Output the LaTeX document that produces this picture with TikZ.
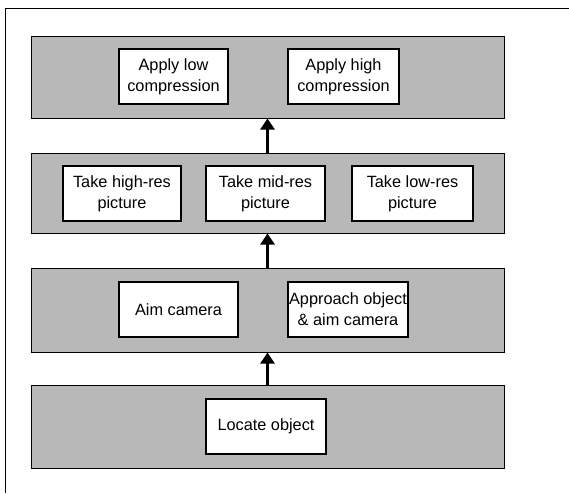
\documentclass[tikz,border=0pt]{standalone}
\usepackage{fontspec}
\setmainfont{Liberation Sans}
\usepackage{tikz}
\usetikzlibrary{arrows.meta,positioning}

\begin{document}
\begin{tikzpicture}[
  x=1pt,
  y=-1pt,
  layer/.style={draw, line width=1pt, fill=black!28, minimum width=473pt, inner sep=0pt},
  task/.style={draw, line width=1.1pt, fill=white, align=center, inner sep=1pt,
    minimum height=55pt, font=\fontsize{16.3}{21}\selectfont},
  up/.style={line width=2.6pt, -{Triangle[length=11pt,width=14pt]}}
]
\useasboundingbox (0,0) rectangle (569,493);
\draw[line width=0.8pt] (5,493) -- (5,8) -- (569,8);

% layers, bottom to top
\node[layer, minimum height=83pt] (locate) at (267.5,426.5) {};
\node[layer, minimum height=84pt] (aim) at (267.5,310) {};
\node[layer, minimum height=80pt] (shoot) at (267.5,193) {};
\node[layer, minimum height=82pt] (compress) at (267.5,77) {};

\node[task, minimum width=120pt] (loc) at (266,426.5) {Locate object};

\node[task, minimum width=119pt] (aimcam) at (178.5,309.5) {Aim camera};
\node[task, minimum width=120pt] (approach) at (348,309.5) {Approach object\\\& aim camera};

\node[task, minimum width=118pt] (hires) at (122,193.5) {Take high-res\\picture};
\node[task, minimum width=119pt] (midres) at (265.5,193.5) {Take mid-res\\picture};
\node[task, minimum width=121pt] (lowres) at (412.5,193.5) {Take low-res\\picture};

\node[task, minimum width=109pt] (lowcomp) at (173.5,76.5) {Apply low\\compression};
\node[task, minimum width=111pt] (highcomp) at (343.5,76.5) {Apply high\\compression};

\draw[up] (locate.north) -- (aim.south);
\draw[up] (aim.north) -- (shoot.south);
\draw[up] (shoot.north) -- (compress.south);
\end{tikzpicture}
\end{document}
